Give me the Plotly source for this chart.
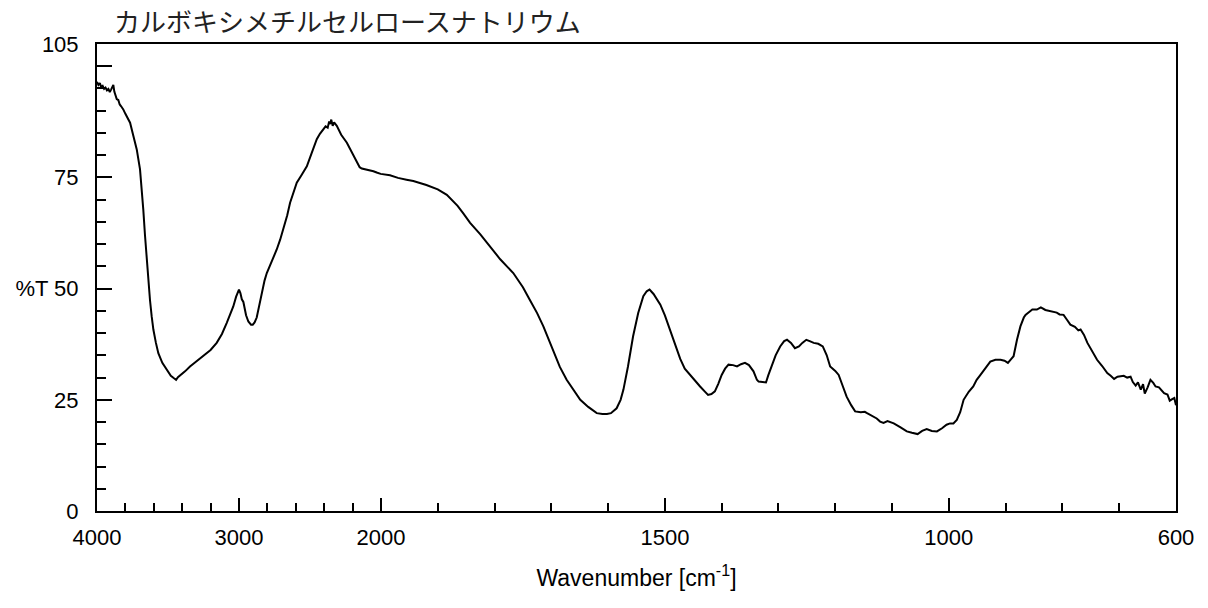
import plotly.graph_objects as go

# IR spectrum of sodium carboxymethyl cellulose (wavenumber in cm^-1, %T)
wavenumber = [
    4000, 3990, 3980, 3970, 3960, 3950, 3940, 3930, 3920, 3910, 3900, 3890, 3885, 3878, 3870,
    3861, 3850, 3840, 3830, 3815, 3800, 3790, 3767, 3745, 3720, 3697, 3685, 3674, 3662, 3650,
    3638, 3627, 3615, 3603, 3585, 3568, 3540, 3509, 3480, 3460, 3443, 3430, 3410, 3380, 3345,
    3300, 3251, 3200, 3157, 3120, 3086, 3060, 3040, 3020, 3005, 3000, 2990, 2980, 2969, 2950,
    2934, 2915, 2903, 2890, 2875, 2860, 2840, 2820, 2804, 2770, 2734, 2710, 2687, 2660, 2640,
    2615, 2593, 2560, 2522, 2490, 2452, 2430, 2405, 2390, 2375, 2365, 2358, 2350, 2340, 2330,
    2311, 2280, 2240, 2200, 2170, 2150, 2135, 2120, 2100, 2080, 2053, 2030, 2002, 1984, 1970,
    1955, 1943, 1920, 1900, 1884, 1875, 1865, 1855, 1843, 1825, 1808, 1790, 1767, 1750, 1738,
    1725, 1714, 1705, 1696, 1685, 1673, 1660, 1649, 1635, 1620, 1610, 1602, 1595, 1585, 1578,
    1573, 1565, 1556, 1547, 1538, 1532, 1527, 1520, 1508, 1500, 1491, 1482, 1473, 1465, 1456,
    1447, 1438, 1430, 1424, 1418, 1412, 1406, 1400, 1394, 1388, 1380, 1373, 1366, 1359, 1352,
    1344, 1338, 1335, 1328, 1322, 1318, 1312, 1305, 1297, 1290, 1285, 1278, 1271, 1264, 1258,
    1251, 1245, 1238, 1230, 1222, 1215, 1209, 1200, 1194, 1188, 1180, 1172, 1165, 1155, 1148,
    1144, 1135, 1127, 1121, 1115, 1108, 1097, 1085, 1074, 1065, 1055, 1047, 1039, 1030, 1021,
    1012, 1004, 998, 992, 986, 980, 974, 965, 957, 951, 945, 935, 927, 918, 909,
    902, 896, 890, 886, 880, 874, 868, 865, 858, 853, 845, 840, 838, 830, 821,
    810, 805, 798, 792, 786, 778, 772, 768, 762, 756, 748, 739, 730, 721, 715,
    709, 703, 697, 692, 686, 680, 676, 671, 667, 662, 658, 655, 650, 645, 640,
    636, 630, 625, 621, 615, 611, 606, 603, 600,
]
transmittance = [
    96.5, 95.8, 96.2, 95.3, 95.6, 94.9, 95.2, 94.6, 94.9, 94.2, 94.8, 95.4, 95.8, 94.3, 93.6,
    92.6, 92.4, 91.4, 91.0, 90.3, 89.3, 88.6, 87.3, 84.5, 81.3, 76.8, 72.5, 67.8, 62.0, 56.5,
    51.8, 47.5, 43.8, 40.8, 37.8, 35.5, 33.3, 31.8, 30.4, 29.9, 29.5, 30.1, 30.6, 31.4, 32.5,
    33.6, 34.8, 36.2, 37.8, 39.8, 42.3, 44.2, 46.0, 48.2, 49.6, 49.8, 49.0, 47.6, 47.0, 44.0,
    42.6, 41.9, 41.9, 42.4, 43.5, 46.0, 49.0, 51.8, 53.5, 56.0, 58.8, 61.0, 63.3, 66.5, 69.3,
    72.0, 73.8, 75.5, 77.5, 80.3, 83.6, 84.8, 85.8, 86.5, 86.2, 87.6, 87.0, 88.0, 86.6, 87.4,
    86.6, 84.6, 82.8, 80.3, 78.3, 77.3, 77.0, 76.9, 76.8, 76.5, 76.4, 76.1, 75.8, 75.5, 74.9,
    74.5, 74.2, 73.3, 72.3, 71.1, 70.0, 68.6, 66.9, 64.8, 62.2, 59.5, 56.6, 53.5, 50.3, 47.5,
    44.5, 41.5, 38.6, 35.5, 32.4, 29.5, 27.0, 25.0, 23.4, 22.0, 21.8, 21.8, 22.0, 23.1, 25.0,
    27.3, 32.5, 39.3, 44.5, 48.3, 49.4, 49.8, 48.8, 46.4, 44.0, 40.8, 37.2, 34.2, 32.0, 30.6,
    29.4, 28.0, 26.9, 26.1, 26.3, 26.9, 28.6, 30.6, 32.0, 32.9, 32.8, 32.5, 33.0, 33.3, 32.8,
    31.4, 29.5, 29.1, 29.0, 28.9, 30.5, 32.5, 35.0, 37.0, 38.2, 38.5, 37.8, 36.6, 37.0, 37.8,
    38.5, 38.2, 37.8, 37.6, 37.0, 35.0, 32.5, 31.5, 30.6, 28.5, 25.7, 23.8, 22.4, 22.2, 22.3,
    22.0, 21.3, 20.8, 20.1, 19.8, 20.2, 19.7, 18.8, 17.9, 17.6, 17.3, 18.0, 18.4, 18.0, 17.9,
    18.6, 19.4, 19.7, 19.7, 20.5, 22.2, 25.0, 26.8, 28.0, 29.5, 30.5, 32.2, 33.6, 34.0, 34.0,
    33.8, 33.3, 34.2, 34.8, 38.5, 41.5, 43.5, 44.1, 44.8, 45.3, 45.3, 45.6, 45.8, 45.2, 44.9,
    44.6, 44.2, 44.1, 43.0, 41.9, 41.4, 40.6, 40.8, 39.6, 37.8, 36.0, 34.0, 32.6, 31.0, 30.4,
    29.7, 30.2, 30.3, 30.4, 30.0, 30.2, 29.0, 28.2, 28.9, 27.3, 28.5, 26.4, 27.8, 29.5, 28.8,
    28.0, 27.8, 27.0, 26.5, 26.2, 24.8, 25.2, 25.4, 23.8,
]

major_ticks = [4000, 3000, 2000, 1500, 1000, 600]
major_labels = ["4000", "3000", "2000", "1500", "1000", "600"]
minor_ticks = [3800, 3600, 3400, 3200, 2800, 2600, 2400, 2200,
               1900, 1800, 1700, 1600, 1400, 1300, 1200, 1100, 900, 800, 700]

y_ticks = [0, 25, 50, 75, 105]
y_labels = ["0", "25", "%T 50", "75", "105"]
y_unlabeled_major = [100]


def axis_pos(w):
    """Split wavenumber scale: 4000-2000 compressed 4x relative to 2000-600."""
    return (4000 - w) / 4 if w >= 2000 else 500 + (2000 - w)


fig = go.Figure(
    go.Scatter(
        x=[axis_pos(w) for w in wavenumber],
        y=transmittance,
        mode="lines",
        line=dict(color="black", width=2),
        hoverinfo="skip",
    )
)

tick_font = dict(family="Liberation Sans, Arial, sans-serif", size=22, color="black")
title_font = dict(family="Liberation Sans, Arial, sans-serif", size=23, color="black")

fig.update_xaxes(
    range=[axis_pos(4000), axis_pos(600)],
    tickmode="array",
    tickvals=[axis_pos(w) for w in major_ticks],
    ticktext=major_labels,
    ticks="inside",
    ticklen=13,
    tickwidth=2,
    tickcolor="black",
    minor=dict(
        tickmode="array",
        tickvals=[axis_pos(w) for w in minor_ticks],
        ticks="inside",
        ticklen=8,
        tickwidth=2,
        tickcolor="black",
    ),
    showline=True,
    linecolor="black",
    linewidth=2,
    mirror=True,
    showgrid=False,
    zeroline=False,
    tickfont=tick_font,
    ticklabelstandoff=6,
    title=dict(text="Wavenumber [cm<sup>-1</sup>]", font=title_font, standoff=20),
)

fig.update_yaxes(
    range=[0, 105],
    tickmode="array",
    tickvals=y_ticks,
    ticktext=y_labels,
    ticks="inside",
    ticklen=15,
    tickwidth=2,
    tickcolor="black",
    minor=dict(
        tickmode="linear",
        tick0=0,
        dtick=5,
        ticks="inside",
        ticklen=9,
        tickwidth=2,
        tickcolor="black",
    ),
    showline=True,
    linecolor="black",
    linewidth=2,
    mirror=True,
    showgrid=False,
    zeroline=False,
    tickfont=tick_font,
    ticklabelstandoff=12,
)

# Overlay axis carrying the long, unlabeled tick at 100 %T
fig.update_layout(
    yaxis2=dict(
        overlaying="y",
        side="left",
        range=[0, 105],
        tickmode="array",
        tickvals=y_unlabeled_major,
        showticklabels=False,
        ticks="inside",
        ticklen=15,
        tickwidth=2,
        tickcolor="black",
        showline=False,
        showgrid=False,
        zeroline=False,
    )
)
fig.add_trace(
    go.Scatter(
        x=[axis_pos(w) for w in wavenumber[:1]],
        y=transmittance[:1],
        yaxis="y2",
        mode="lines",
        line=dict(color="rgba(0,0,0,0)"),
        hoverinfo="skip",
        showlegend=False,
    )
)

fig.add_annotation(
    text="カルボキシメチルセルロースナトリウム",
    xref="paper", yref="paper",
    x=0.014, y=1.05,
    xanchor="left", yanchor="middle",
    showarrow=False,
    font=dict(family="Noto Sans CJK JP", size=26, color="#222"),
)

fig.update_layout(
    width=1208,
    height=608,
    margin=dict(l=97, r=32, t=44, b=97),
    paper_bgcolor="white",
    plot_bgcolor="white",
    showlegend=False,
)

fig.write_html("out.html")
